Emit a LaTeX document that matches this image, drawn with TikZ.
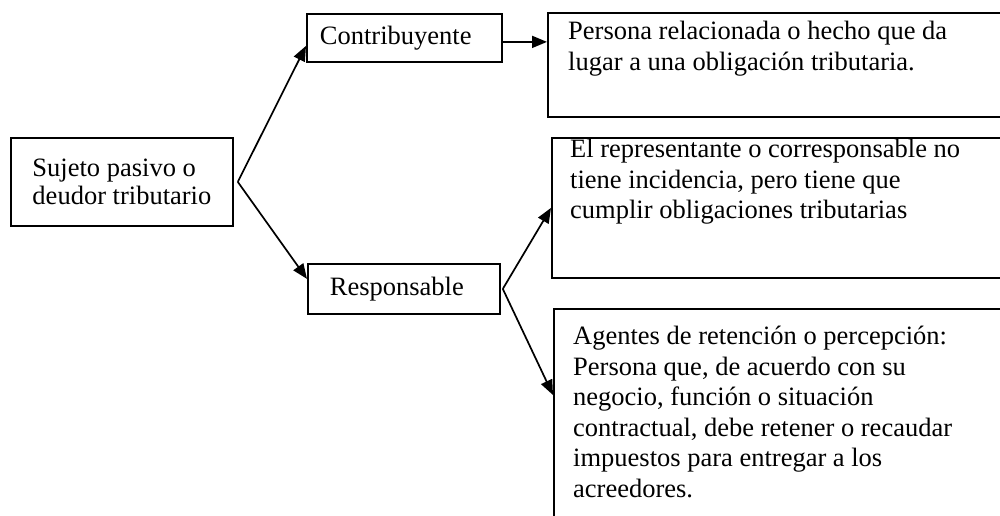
\documentclass[tikz,border=0pt]{standalone}
\usepackage{fontspec}
\setmainfont{Liberation Serif}
\usetikzlibrary{arrows.meta}
\begin{document}
\begin{tikzpicture}[x=1pt,y=-1pt,
  box/.style={draw, line width=1.8pt, inner sep=0pt, anchor=north west},
  lbox/.style={draw, line width=1.8pt, anchor=north west, inner ysep=0pt, align=left,
               font=\fontsize{26.5}{28}\selectfont},
  txt/.style={inner sep=0pt, anchor=north west, align=left, font=\fontsize{26.5}{30.5}\selectfont},
  conn/.style={line width=1.7pt, -{Triangle[length=15pt,width=12pt]}}]
\useasboundingbox (0,0) rectangle (1000,516);
% left box
\node[lbox, minimum height=88pt, minimum width=222pt] (suj) at (10,137) {Sujeto pasivo o\\deudor tributario};
\coordinate (sa) at ([xshift=4pt]suj.east);
% middle boxes
\node[lbox, minimum height=48pt, text width=169pt, inner xsep=13pt] (con) at (306,13) {Contribuyente};
\node[lbox, minimum height=50pt, text width=148pt, inner xsep=22pt] (res) at (307,263) {Responsable};
\coordinate (ra) at ([xshift=2pt]res.east);
% right boxes
\node[box, minimum width=480pt, minimum height=104pt] (per) at (547,12) {};
\node[txt] (pert) at (568,18) {\strut Persona relacionada o hecho que da\\lugar a una obligación tributaria.};
\node[box, minimum width=480pt, minimum height=140pt] (rep) at (551,137) {};
\node[txt] (rept) at (570,136) {\strut El representante o corresponsable no\\tiene incidencia, pero tiene que\\cumplir obligaciones tributarias};
\node[box, minimum width=480pt, minimum height=240pt] (age) at (553,308) {};
\node[txt] (aget) at (573,323) {\strut Agentes de retención o percepción:\\Persona que, de acuerdo con su\\negocio, función o situación\\contractual, debe retener o recaudar\\impuestos para entregar a los\\acreedores.};
% connectors
\draw[conn] (sa) -- ([yshift=-8pt]con.west);
\draw[conn] (sa) -- ([yshift=10pt]res.west);
\draw[conn] ([yshift=-4pt]con.east) -- ([yshift=-4pt]con.east -| per.west);
\draw[conn] (ra) -- (rep.west);
\draw[conn] (ra) -- ([yshift=-87pt]age.north west);
\end{tikzpicture}
\end{document}
